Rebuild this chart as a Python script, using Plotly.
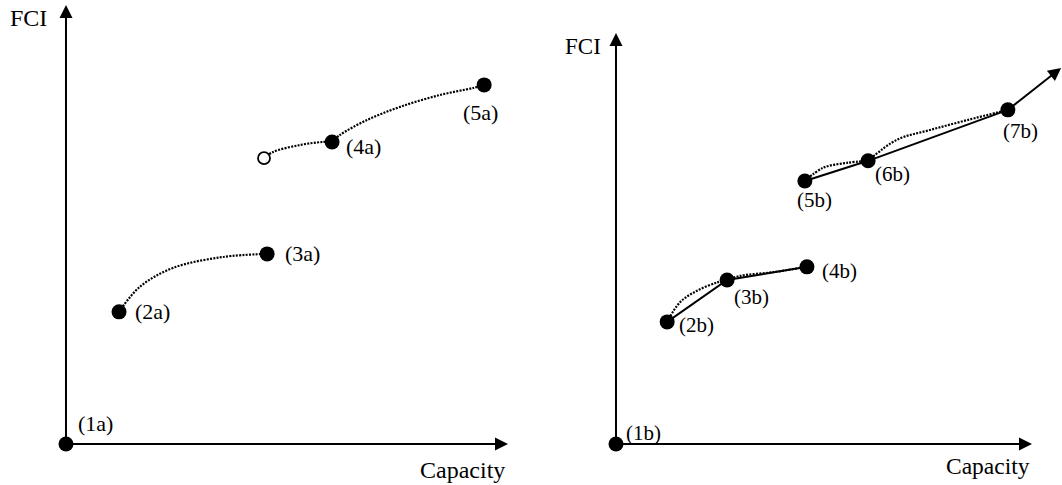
import plotly.graph_objects as go

# ---- Panel (a): capacity / FCI operating points -------------------------
a_labels = ["(1a)", "(2a)", "(3a)", "(4a)", "(5a)"]
a_cap = [0.0, 1.20, 4.55, 6.02, 9.46]
a_fci = [0.0, 3.01, 4.33, 6.88, 8.18]
a_open_cap = [4.48]
a_open_fci = [6.51]

# dotted trade-off curves in panel (a)
a_curve1_cap = [1.20, 1.67, 2.42, 3.55, 4.55]
a_curve1_fci = [3.01, 3.58, 4.01, 4.26, 4.33]
a_curve2_cap = [4.48, 4.68, 5.29, 5.81, 6.02]
a_curve2_fci = [6.51, 6.65, 6.81, 6.88, 6.88]
a_curve3_cap = [6.02, 6.20, 6.81, 7.56, 8.46, 9.21, 9.46]
a_curve3_fci = [6.88, 7.04, 7.38, 7.68, 7.95, 8.11, 8.18]

# ---- Panel (b) ------------------------------------------------------------
b_labels = ["(1b)", "(2b)", "(3b)", "(4b)", "(5b)", "(6b)", "(7b)"]
b_cap = [0.0, 1.23, 2.67, 4.59, 4.54, 6.06, 9.42]
b_fci = [0.0, 2.97, 3.99, 4.31, 6.40, 6.89, 8.13]
b_trend_end = (10.70, 9.15)

b_curve1_cap = [1.23, 1.54, 1.95, 2.43, 2.67]
b_curve1_fci = [2.97, 3.45, 3.73, 3.93, 3.99]
b_curve2_cap = [2.67, 2.98, 3.77, 4.59]
b_curve2_fci = [3.99, 4.09, 4.18, 4.31]
b_curve3_cap = [4.54, 4.98, 5.55, 6.06]
b_curve3_fci = [6.40, 6.72, 6.84, 6.89]
b_curve4_cap = [6.06, 6.75, 7.55, 8.44, 9.42]
b_curve4_fci = [6.89, 7.40, 7.64, 7.88, 8.13]

AXIS_LEN = 10.0
FONT = "Liberation Serif"
INK = "black"
DOT = dict(color=INK, width=2.2, dash="2px,1.3px", shape="spline", smoothing=1.0)

fig = go.Figure()

def dotted(xs, ys, xa, ya):
    fig.add_trace(go.Scatter(x=xs, y=ys, mode="lines", line=DOT,
                             xaxis=xa, yaxis=ya, hoverinfo="skip"))

# panel (a)
dotted(a_curve1_cap, a_curve1_fci, "x", "y")
dotted(a_curve2_cap, a_curve2_fci, "x", "y")
dotted(a_curve3_cap, a_curve3_fci, "x", "y")
fig.add_trace(go.Scatter(x=a_cap, y=a_fci, mode="markers",
                         marker=dict(size=15, color=INK, line=dict(width=0)),
                         xaxis="x", yaxis="y"))
fig.add_trace(go.Scatter(x=a_open_cap, y=a_open_fci, mode="markers",
                         marker=dict(size=12, color="white",
                                     line=dict(width=1.8, color=INK)),
                         xaxis="x", yaxis="y"))

# panel (b)
dotted(b_curve1_cap, b_curve1_fci, "x2", "y2")
dotted(b_curve2_cap, b_curve2_fci, "x2", "y2")
dotted(b_curve3_cap, b_curve3_fci, "x2", "y2")
dotted(b_curve4_cap, b_curve4_fci, "x2", "y2")
fig.add_trace(go.Scatter(x=b_cap[1:4], y=b_fci[1:4], mode="lines",
                         line=dict(color=INK, width=2), xaxis="x2", yaxis="y2"))
fig.add_trace(go.Scatter(x=b_cap[4:7], y=b_fci[4:7], mode="lines",
                         line=dict(color=INK, width=2), xaxis="x2", yaxis="y2"))
fig.add_trace(go.Scatter(x=b_cap, y=b_fci, mode="markers",
                         marker=dict(size=15, color=INK, line=dict(width=0)),
                         xaxis="x2", yaxis="y2"))

annotations = []

def arrow(x0, y0, x1, y1, xa, ya, width=2):
    annotations.append(dict(x=x1, y=y1, ax=x0, ay=y0, xref=xa, yref=ya,
                            axref=xa, ayref=ya, showarrow=True, text="",
                            arrowhead=2, arrowsize=1.3, arrowwidth=width,
                            arrowcolor=INK, standoff=0, startstandoff=0))

def text(s, x, y, xa, ya, dx, dy, size=21):
    annotations.append(dict(x=x, y=y, xref=xa, yref=ya, text=s, showarrow=False,
                            xshift=dx, yshift=dy, xanchor="center", yanchor="middle",
                            font=dict(family=FONT, size=size, color=INK)))

# axes with arrowheads
arrow(0, 0, AXIS_LEN, 0, "x", "y")
arrow(0, 0, 0, AXIS_LEN, "x", "y")
arrow(0, 0, AXIS_LEN, 0, "x2", "y2")
arrow(0, 0, 0, AXIS_LEN, "x2", "y2")
# continuing trend beyond (7b)
arrow(b_cap[-1], b_fci[-1], b_trend_end[0], b_trend_end[1], "x2", "y2")

# axis titles
text("FCI", 0, AXIS_LEN, "x", "y", -37, -13, 24)
text("Capacity", AXIS_LEN, 0, "x", "y", -46, -26, 24)
text("FCI", 0, AXIS_LEN, "x2", "y2", -33, -13, 23)
text("Capacity", AXIS_LEN, 0, "x2", "y2", -44, -22, 23.5)

# point labels
a_offsets = [(30, 21), (33, 0), (35, 0), (31, -5), (-4, -28)]
for s, cx, cy, (dx, dy) in zip(a_labels, a_cap, a_fci, a_offsets):
    text(s, cx, cy, "x", "y", dx, dy, 22)
b_offsets = [(28, 11), (29, -3), (24, -17), (33, -4), (10, -19), (24, -13), (13, -21)]
for s, cx, cy, (dx, dy) in zip(b_labels, b_cap, b_fci, b_offsets):
    text(s, cx, cy, "x2", "y2", dx, dy, 21)

hidden = dict(visible=False, showgrid=False, zeroline=False, fixedrange=True)
fig.update_layout(
    width=1062, height=485, autosize=False,
    margin=dict(l=0, r=0, t=0, b=0),
    paper_bgcolor="white", plot_bgcolor="white",
    showlegend=False,
    xaxis=dict(domain=[0, 0.5], range=[-1.493, 10.52], **hidden),
    yaxis=dict(domain=[0, 1], range=[-0.934, 10.114], **hidden),
    xaxis2=dict(domain=[0.5, 1], range=[-2.043, 10.721], anchor="y2", **hidden),
    yaxis2=dict(domain=[0, 1], range=[-0.998, 10.803], anchor="x2", **hidden),
    annotations=annotations,
)

fig.write_html("out.html")
